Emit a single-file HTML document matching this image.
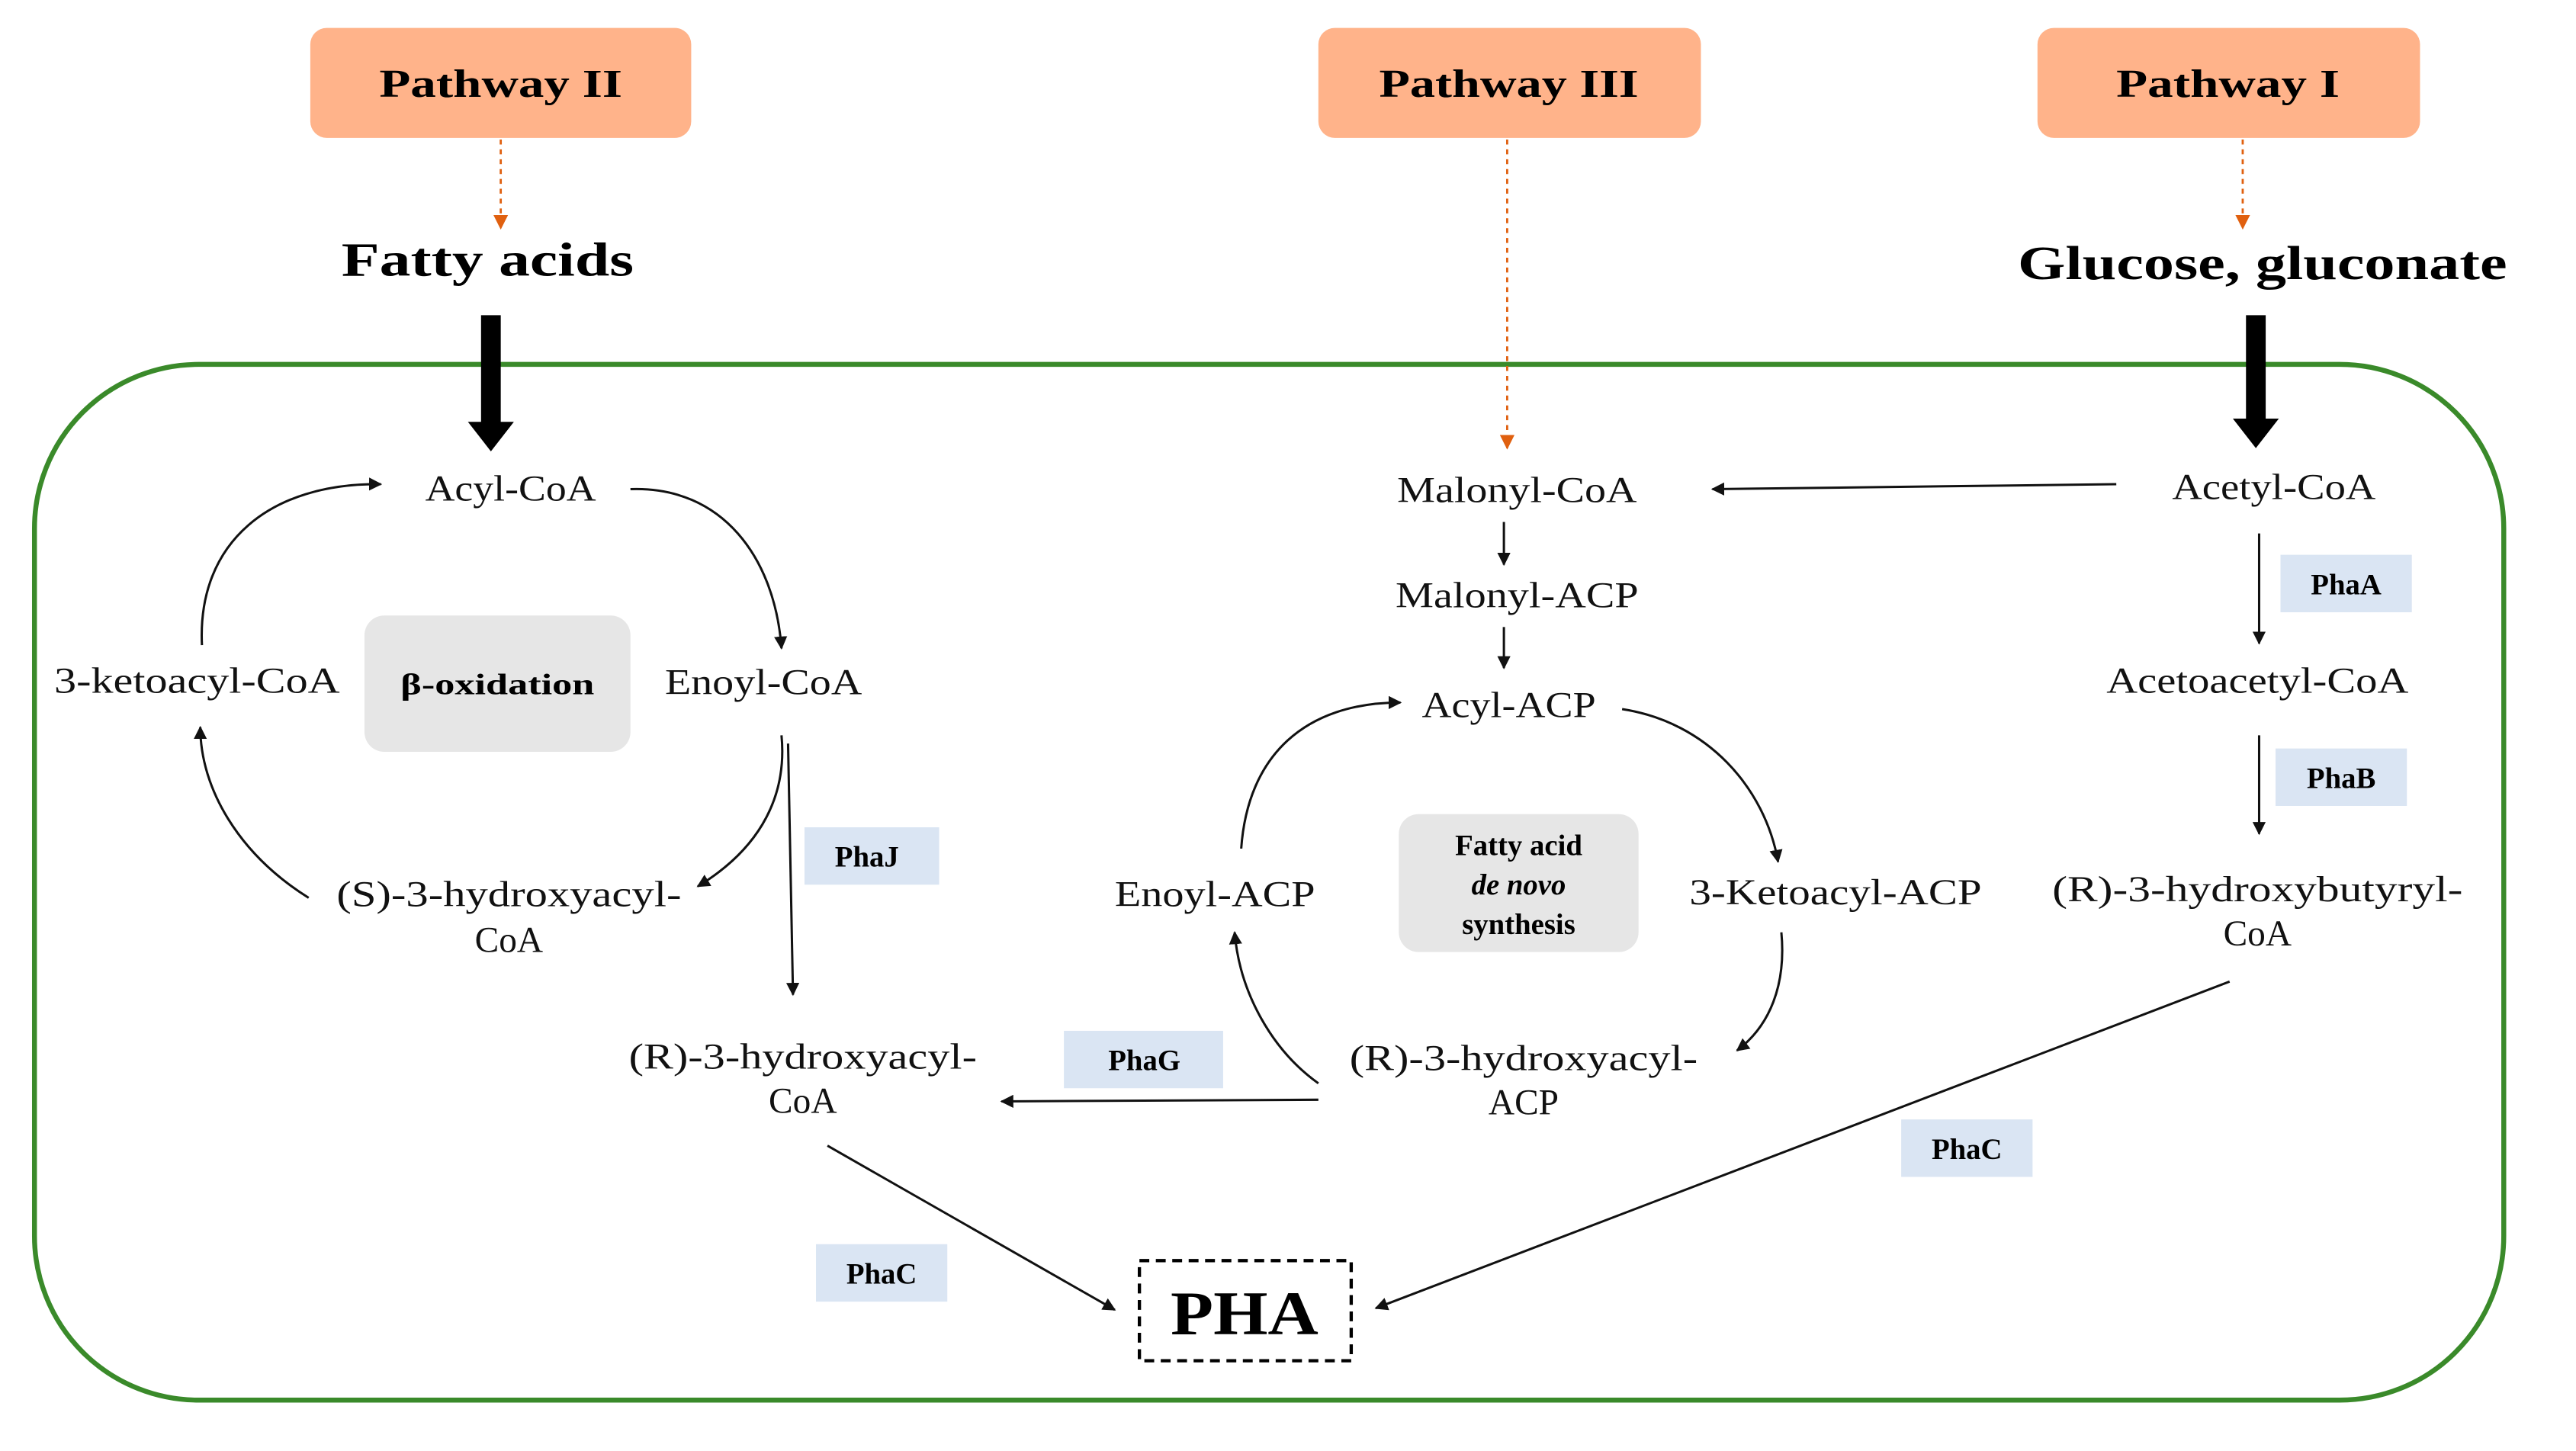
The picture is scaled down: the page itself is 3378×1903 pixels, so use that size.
<!DOCTYPE html>
<html><head><meta charset="utf-8"><style>
html,body{margin:0;padding:0;background:#fff;}
svg{display:block;}
.t{font-family:"Liberation Serif",serif;font-size:22px;fill:#111;text-anchor:middle;}
.b{font-family:"Liberation Serif",serif;font-weight:bold;fill:#000;text-anchor:middle;}
.ln{stroke:#111;stroke-width:1.4;fill:none;}
</style></head><body>
<svg width="3378" height="1903" viewBox="0 0 1569 884" preserveAspectRatio="none" xmlns="http://www.w3.org/2000/svg">
<defs>
<marker id="a" viewBox="0 0 10 10" refX="9" refY="5" markerWidth="8" markerHeight="8" markerUnits="userSpaceOnUse" orient="auto"><path d="M0,0 L10,5 L0,10 z" fill="#111"/></marker>
<marker id="o" viewBox="0 0 10 10" refX="9" refY="5" markerWidth="9" markerHeight="9" markerUnits="userSpaceOnUse" orient="auto"><path d="M0,0 L10,5 L0,10 z" fill="#e0600f"/></marker>
</defs>
<rect width="1569" height="884" fill="#fff"/>
<rect x="21" y="222" width="1504" height="631" rx="100" fill="none" stroke="#3a8a2a" stroke-width="3"/>
<rect x="189" y="17" width="232" height="67" rx="10" fill="#ffb38a"/>
<text class="b" x="305" y="59" font-size="24" textLength="148" lengthAdjust="spacingAndGlyphs">Pathway II</text>
<rect x="803" y="17" width="233" height="67" rx="10" fill="#ffb38a"/>
<text class="b" x="919" y="59" font-size="24" textLength="158" lengthAdjust="spacingAndGlyphs">Pathway III</text>
<rect x="1241" y="17" width="233" height="67" rx="10" fill="#ffb38a"/>
<text class="b" x="1357" y="59" font-size="24" textLength="136" lengthAdjust="spacingAndGlyphs">Pathway I</text>
<line x1="305" y1="85" x2="305" y2="139" stroke="#e0600f" stroke-width="1.3" stroke-dasharray="3,3" marker-end="url(#o)"/>
<line x1="918" y1="85" x2="918" y2="273" stroke="#e0600f" stroke-width="1.3" stroke-dasharray="3,3" marker-end="url(#o)"/>
<line x1="1366" y1="85" x2="1366" y2="139" stroke="#e0600f" stroke-width="1.3" stroke-dasharray="3,3" marker-end="url(#o)"/>
<text class="b" x="297" y="168" font-size="29" textLength="178" lengthAdjust="spacingAndGlyphs">Fatty acids</text>
<text class="b" x="1378" y="170" font-size="29" textLength="298" lengthAdjust="spacingAndGlyphs">Glucose, gluconate</text>
<path d="M293,192 H305 V257 H313 L299,275 L285,257 H293 Z" fill="#000"/>
<path d="M1368,192 H1380 V255 H1388 L1374,273 L1360,255 H1368 Z" fill="#000"/>
<text class="t" x="311" y="305" textLength="104" lengthAdjust="spacingAndGlyphs">Acyl-CoA</text>
<text class="t" x="120" y="422" textLength="174" lengthAdjust="spacingAndGlyphs">3-ketoacyl-CoA</text>
<text class="t" x="465" y="423" textLength="120" lengthAdjust="spacingAndGlyphs">Enoyl-CoA</text>
<rect x="222" y="375" width="162" height="83" rx="12" fill="#e6e6e6"/>
<text class="b" x="303" y="423" font-size="18" textLength="118" lengthAdjust="spacingAndGlyphs">β-oxidation</text>
<text class="t" x="310" y="552" textLength="210" lengthAdjust="spacingAndGlyphs">(S)-3-hydroxyacyl-</text>
<text class="t" x="310" y="580">CoA</text>
<path class="ln" d="M384,298 C440,296 472,340 476,395" marker-end="url(#a)"/>
<path class="ln" d="M123,393 C120,330 165,294 232,295" marker-end="url(#a)"/>
<path class="ln" d="M188,547 C145,520 122,480 122,443" marker-end="url(#a)"/>
<path class="ln" d="M476,448 C480,490 458,520 425,540" marker-end="url(#a)"/>
<rect x="490" y="504" width="82" height="35" fill="#dae5f3"/>
<text class="b" x="528" y="528" font-size="18">PhaJ</text>
<line class="ln" x1="480" y1="453" x2="483" y2="606" marker-end="url(#a)"/>
<text class="t" x="489" y="651" textLength="212" lengthAdjust="spacingAndGlyphs">(R)-3-hydroxyacyl-</text>
<text class="t" x="489" y="678">CoA</text>
<rect x="648" y="628" width="97" height="35" fill="#dae5f3"/>
<text class="b" x="697" y="652" font-size="18">PhaG</text>
<line class="ln" x1="803" y1="670" x2="610" y2="671" marker-end="url(#a)"/>
<rect x="497" y="758" width="80" height="35" fill="#dae5f3"/>
<text class="b" x="537" y="782" font-size="18">PhaC</text>
<line class="ln" x1="504" y1="698" x2="679" y2="798" stroke-width="1.1" marker-end="url(#a)"/>
<rect x="694" y="768" width="129" height="61" fill="#fff" stroke="#000" stroke-width="2" stroke-dasharray="6,4"/>
<text class="b" x="758" y="813" font-size="38" textLength="90" lengthAdjust="spacingAndGlyphs">PHA</text>
<rect x="1158" y="682" width="80" height="35" fill="#dae5f3"/>
<text class="b" x="1198" y="706" font-size="18">PhaC</text>
<line class="ln" x1="1358" y1="598" x2="838" y2="797" stroke-width="1.1" marker-end="url(#a)"/>
<text class="t" x="924" y="306" textLength="146" lengthAdjust="spacingAndGlyphs">Malonyl-CoA</text>
<line class="ln" x1="1289" y1="295" x2="1043" y2="298" marker-end="url(#a)"/>
<text class="t" x="1385" y="304" textLength="124" lengthAdjust="spacingAndGlyphs">Acetyl-CoA</text>
<line class="ln" x1="916" y1="318" x2="916" y2="344" marker-end="url(#a)"/>
<text class="t" x="924" y="370" textLength="148" lengthAdjust="spacingAndGlyphs">Malonyl-ACP</text>
<line class="ln" x1="916" y1="382" x2="916" y2="407" marker-end="url(#a)"/>
<text class="t" x="919" y="437" textLength="106" lengthAdjust="spacingAndGlyphs">Acyl-ACP</text>
<path class="ln" d="M756,517 C760,460 795,428 853,428" marker-end="url(#a)"/>
<path class="ln" d="M988,432 C1040,440 1075,480 1083,525" marker-end="url(#a)"/>
<text class="t" x="740" y="552" textLength="122" lengthAdjust="spacingAndGlyphs">Enoyl-ACP</text>
<rect x="852" y="496" width="146" height="84" rx="12" fill="#e6e6e6"/>
<text class="b" x="925" y="521" font-size="18">Fatty acid</text>
<text class="b" x="925" y="545" font-size="18" font-style="italic">de novo</text>
<text class="b" x="925" y="569" font-size="18">synthesis</text>
<text class="t" x="1118" y="551" textLength="178" lengthAdjust="spacingAndGlyphs">3-Ketoacyl-ACP</text>
<path class="ln" d="M1085,568 C1088,600 1078,625 1058,640" marker-end="url(#a)"/>
<text class="t" x="928" y="652" textLength="212" lengthAdjust="spacingAndGlyphs">(R)-3-hydroxyacyl-</text>
<text class="t" x="928" y="679">ACP</text>
<path class="ln" d="M803,660 C775,640 755,605 752,568" marker-end="url(#a)"/>
<line class="ln" x1="1376" y1="325" x2="1376" y2="392" marker-end="url(#a)"/>
<rect x="1389" y="338" width="80" height="35" fill="#dae5f3"/>
<text class="b" x="1429" y="362" font-size="18">PhaA</text>
<text class="t" x="1375" y="422" textLength="184" lengthAdjust="spacingAndGlyphs">Acetoacetyl-CoA</text>
<line class="ln" x1="1376" y1="448" x2="1376" y2="508" marker-end="url(#a)"/>
<rect x="1386" y="456" width="80" height="35" fill="#dae5f3"/>
<text class="b" x="1426" y="480" font-size="18">PhaB</text>
<text class="t" x="1375" y="549" textLength="250" lengthAdjust="spacingAndGlyphs">(R)-3-hydroxybutyryl-</text>
<text class="t" x="1375" y="576">CoA</text>
</svg>
</body></html>
